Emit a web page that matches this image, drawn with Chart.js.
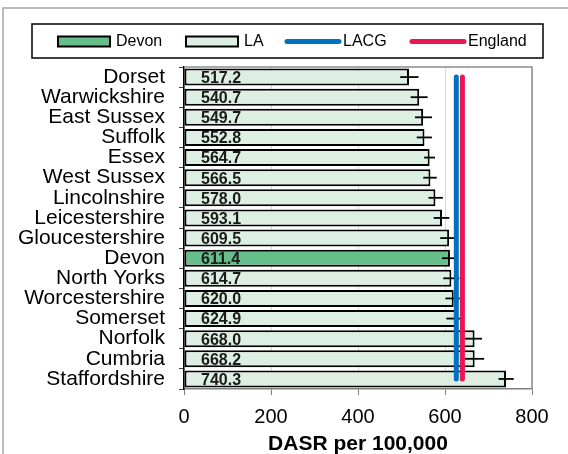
<!DOCTYPE html>
<html>
<head>
<meta charset="utf-8">
<script src="https://cdn.jsdelivr.net/npm/chart.js@4.4.1/dist/chart.umd.min.js"></script>
<style>
  html, body { margin: 0; padding: 0; background: #fff; }
  #wrap { width: 568px; height: 454px; position: relative; }
</style>
</head>
<body>
<div id="wrap"><canvas id="dasrChart"></canvas></div>
<script>
const categories = ['Dorset', 'Warwickshire', 'East Sussex', 'Suffolk', 'Essex', 'West Sussex',
  'Lincolnshire', 'Leicestershire', 'Gloucestershire', 'Devon', 'North Yorks', 'Worcestershire',
  'Somerset', 'Norfolk', 'Cumbria', 'Staffordshire'];
const dasr = [517.2, 540.7, 549.7, 552.8, 564.7, 566.5, 578.0, 593.1, 609.5, 611.4, 614.7, 620.0,
  624.9, 668.0, 668.2, 740.3];
const ciLower = [497, 521, 531, 535, 552, 550, 562, 574, 589, 593, 596, 601, 603, 646, 646, 723];
const ciUpper = [539, 560, 570, 570, 577, 581, 595, 610, 621, 623, 633, 634, 638, 685, 690, 758];
const lacgValue = 626;
const englandValue = 640;
const xTicks = [0, 200, 400, 600, 800];
const highlight = 'Devon';

const devonColor = '#66bf8a';
const laColor = '#ddefe2';
const lacgColor = '#0070c0';
const englandColor = '#e8174f';

Chart.defaults.font.family = 'Arial, "Liberation Sans", sans-serif';
Chart.defaults.color = '#000';

// frame, plot border, error bars, value labels and the boxed legend
const extras = {
  id: 'extras',
  beforeDraw(chart) {
    const ctx = chart.ctx;
    ctx.save();
    ctx.strokeStyle = '#a6a6a6';
    ctx.lineWidth = 1.5;
    ctx.beginPath();
    ctx.moveTo(3, chart.height);
    ctx.lineTo(3, 8);
    ctx.lineTo(chart.width, 8);
    ctx.stroke();
    ctx.restore();
  },
  beforeDatasetsDraw(chart) {
    const ctx = chart.ctx;
    const a = chart.chartArea;
    ctx.save();
    ctx.strokeStyle = '#8c8c8c';
    ctx.lineWidth = 1.5;
    ctx.beginPath();
    ctx.moveTo(a.left, a.top);
    ctx.lineTo(a.right, a.top);
    ctx.lineTo(a.right, a.bottom);
    ctx.stroke();
    ctx.restore();
  },
  afterDatasetDraw(chart, args) {
    if (args.meta.type !== 'bar') return;
    const ctx = chart.ctx;
    const xs = chart.scales.x;
    ctx.save();
    ctx.strokeStyle = '#000';
    ctx.lineWidth = 1.8;
    args.meta.data.forEach((bar, i) => {
      ctx.beginPath();
      ctx.moveTo(xs.getPixelForValue(ciLower[i]), bar.y);
      ctx.lineTo(xs.getPixelForValue(ciUpper[i]), bar.y);
      ctx.stroke();
    });
    ctx.fillStyle = '#1a1a1a';
    ctx.font = 'bold 16px Arial, "Liberation Sans", sans-serif';
    ctx.textBaseline = 'middle';
    ctx.textAlign = 'left';
    args.meta.data.forEach((bar, i) => {
      ctx.fillText(dasr[i].toFixed(1), xs.getPixelForValue(0) + 17, bar.y + 1.5);
    });
    ctx.restore();
  },
  afterDraw(chart) {
    const ctx = chart.ctx;
    ctx.save();
    ctx.strokeStyle = '#000';
    ctx.lineWidth = 1.5;
    ctx.strokeRect(32, 24, 511, 34);
    const cy = 41.5;
    ctx.font = '16px Arial, "Liberation Sans", sans-serif';
    ctx.textBaseline = 'middle';
    ctx.fillStyle = '#000';
    // box swatches
    [[58, devonColor, 'Devon'], [186, laColor, 'LA']].forEach(([x, c, t]) => {
      ctx.fillStyle = c;
      ctx.fillRect(x, cy - 5, 52, 10);
      ctx.lineWidth = 2;
      ctx.strokeRect(x, cy - 5, 52, 10);
      ctx.fillStyle = '#000';
      ctx.fillText(t, x + 58, cy);
    });
    // line swatches
    [[285, lacgColor, 'LACG'], [410, englandColor, 'England']].forEach(([x, c, t]) => {
      ctx.strokeStyle = c;
      ctx.lineWidth = 5;
      ctx.lineCap = 'round';
      ctx.beginPath();
      ctx.moveTo(x + 2, cy);
      ctx.lineTo(x + 54, cy);
      ctx.stroke();
      ctx.fillStyle = '#000';
      ctx.fillText(t, x + 58, cy);
    });
    ctx.restore();
  }
};

new Chart(document.getElementById('dasrChart'), {
  type: 'bar',
  data: {
    labels: categories,
    datasets: [
      {
        label: 'LA',
        data: dasr,
        backgroundColor: categories.map(c => c === highlight ? devonColor : laColor),
        borderColor: '#000',
        borderWidth: 2,
        borderSkipped: false,
        barPercentage: 0.845,
        categoryPercentage: 1,
        order: 2
      },
      {
        type: 'line',
        label: 'LACG',
        indexAxis: 'y',
        data: [{ x: lacgValue, y: categories[0] }, { x: lacgValue, y: categories[categories.length - 1] }],
        borderColor: lacgColor,
        borderWidth: 5,
        borderCapStyle: 'round',
        pointRadius: 0,
        order: 1
      },
      {
        type: 'line',
        label: 'England',
        indexAxis: 'y',
        data: [{ x: englandValue, y: categories[0] }, { x: englandValue, y: categories[categories.length - 1] }],
        borderColor: englandColor,
        borderWidth: 5,
        borderCapStyle: 'round',
        pointRadius: 0,
        order: 0
      }
    ]
  },
  options: {
    indexAxis: 'y',
    responsive: true,
    maintainAspectRatio: false,
    animation: false,
    layout: { padding: { top: 67, right: 36, bottom: 0, left: 0 } },
    plugins: {
      legend: { display: false },
      tooltip: { enabled: false }
    },
    scales: {
      x: {
        min: 0,
        max: 800,
        afterBuildTicks: s => { s.ticks = xTicks.map(v => ({ value: v })); },
        afterFit: s => { s.height = 65; },
        grid: { color: '#d9d9d9', tickColor: '#808080', tickLength: 6, lineWidth: 1 },
        border: { color: '#808080', width: 1.5 },
        ticks: { font: { size: 20 }, padding: 10, color: '#000' },
        title: { display: true, text: 'DASR per 100,000', font: { size: 21, weight: 'bold' },
          padding: { top: 0, bottom: -3 }, color: '#000' }
      },
      y: {
        afterFit: s => { s.width = 184; },
        grid: { offset: true, drawOnChartArea: false, tickLength: 5, tickColor: '#404040' },
        border: { color: '#000', width: 1.5 },
        ticks: { font: { size: 21 }, padding: 14, color: '#000', autoSkip: false }
      }
    }
  },
  plugins: [extras]
});
</script>
</body>
</html>
